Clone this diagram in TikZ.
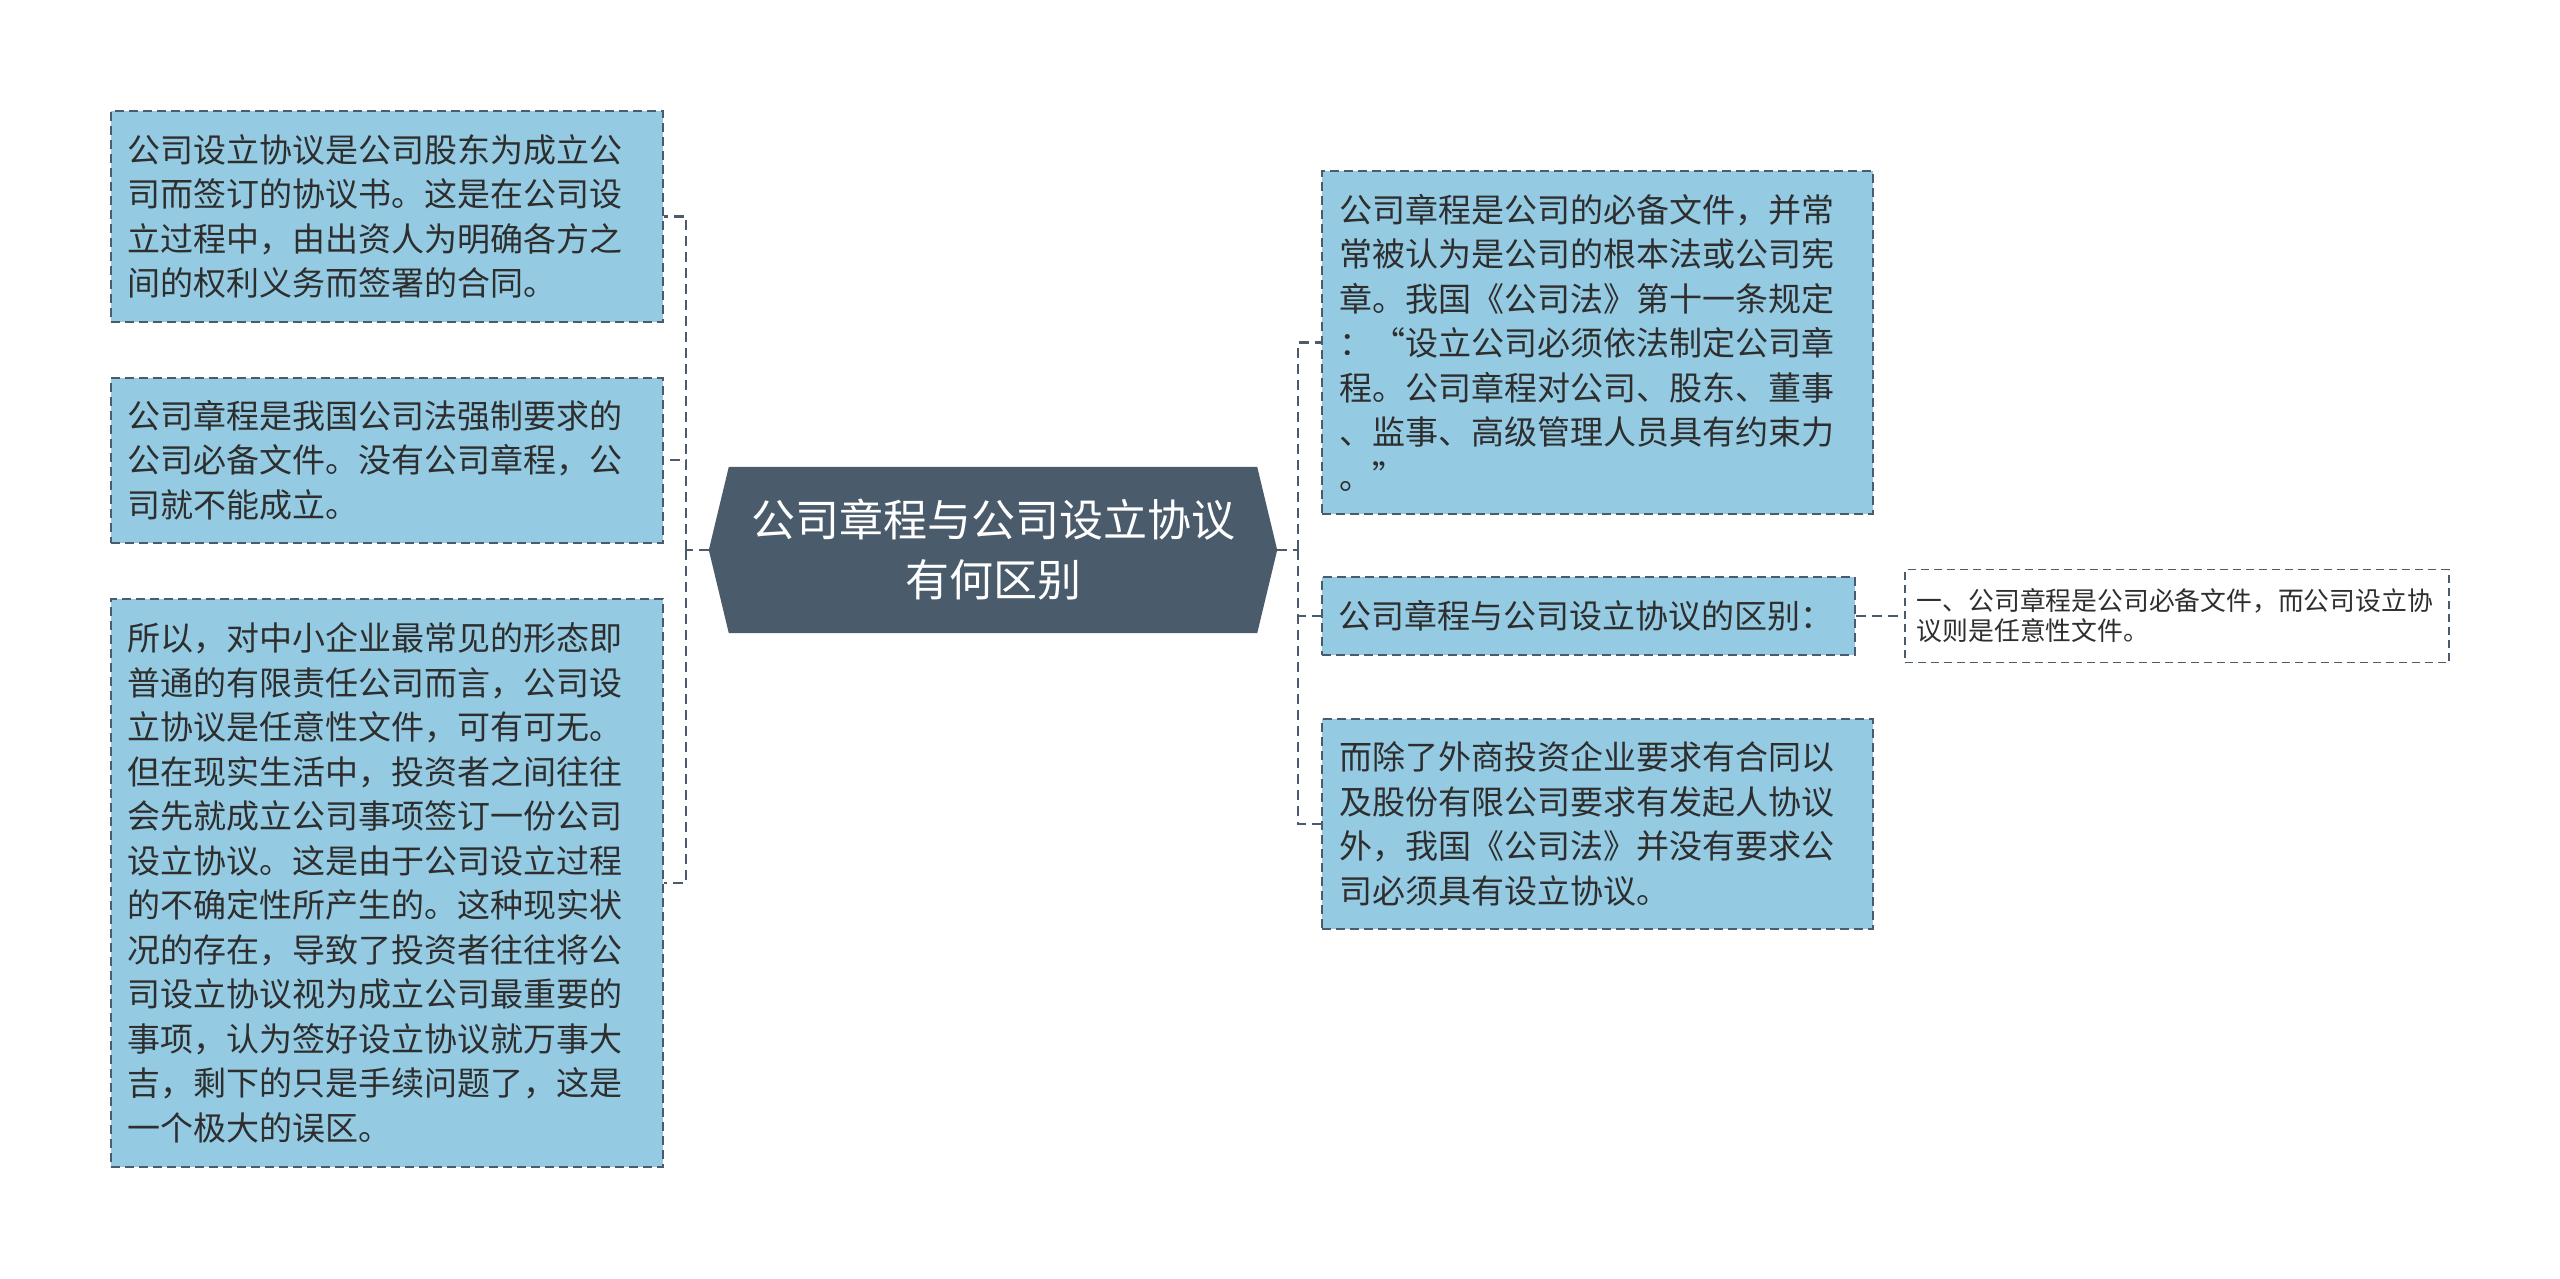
\documentclass[tikz,border=0pt]{standalone}
\usepackage{fontspec}
\setmainfont{Noto Sans CJK SC}
\usetikzlibrary{positioning, calc, backgrounds}
\definecolor{leafblue}{HTML}{94CBE3}
\definecolor{slate}{HTML}{4A5B6B}
\definecolor{ink}{HTML}{2E2E2E}

\begin{document}
\begin{tikzpicture}[x=1pt, y=-1pt,
    % Node styles
    topic/.style={rectangle, draw=none, text=white, minimum width=568pt, minimum height=166pt, align=center, font=\fontsize{44}{60}\selectfont},
    leaf/.style={rectangle, draw=slate, fill=leafblue, line width=2pt, dash pattern=on 9pt off 5pt, text=ink, inner xsep=16pt, inner ysep=0pt, align=left, font=\fontsize{33}{44.5}\selectfont},
    note/.style={rectangle, draw=slate, fill=white, line width=1.8pt, dash pattern=on 8pt off 5pt, text=ink, inner xsep=12pt, inner ysep=0pt, align=left, font=\fontsize{25.8}{30}\selectfont},
    link/.style={draw=slate, line width=2.5pt, dash pattern=on 10pt off 6pt},
]
\useasboundingbox (0,0) rectangle (2560,1278);

% === CENTER: topic ===
\node[topic] (root) at (993,550) {公司章程与公司设立协议\\有何区别};
\begin{scope}[on background layer]
    \fill[slate] (root.west) -- ([xshift=20pt]root.north west) -- ([xshift=-20pt]root.north east) -- (root.east) -- ([xshift=-20pt]root.south east) -- ([xshift=20pt]root.south west) -- cycle;
\end{scope}

% === LEFT: branches ===
\node[leaf, text width=520pt, minimum height=211pt] (agree) at (387,216.5) {公司设立协议是公司股东为成立公\\司而签订的协议书。这是在公司设\\立过程中，由出资人为明确各方之\\间的权利义务而签署的合同。};
\node[leaf, text width=520pt, minimum height=165pt] (charter) at (387,460) {公司章程是我国公司法强制要求的\\公司必备文件。没有公司章程，公\\司就不能成立。};
\node[leaf, text width=520pt, minimum height=568pt] (optional) at (387,883) {所以，对中小企业最常见的形态即\\普通的有限责任公司而言，公司设\\立协议是任意性文件，可有可无。\\但在现实生活中，投资者之间往往\\会先就成立公司事项签订一份公司\\设立协议。这是由于公司设立过程\\的不确定性所产生的。这种现实状\\况的存在，导致了投资者往往将公\\司设立协议视为成立公司最重要的\\事项，认为签好设立协议就万事大\\吉，剩下的只是手续问题了，这是\\一个极大的误区。};

% === RIGHT: branches ===
\node[leaf, text width=517pt, inner xsep=17pt, minimum height=343pt] (lawbase) at (1597.5,342.5) {公司章程是公司的必备文件，并常\\常被认为是公司的根本法或公司宪\\章。我国《公司法》第十一条规定\\：“设立公司必须依法制定公司章\\程。公司章程对公司、股东、董事\\、监事、高级管理人员具有约束力\\。”};
\node[leaf, text width=501pt, minimum height=78pt] (diff) at (1588.5,616) {公司章程与公司设立协议的区别：};
\node[note, text width=520pt, minimum height=93pt, right=48pt of diff] (diffnote) {一、公司章程是公司必备文件，而公司设立协\\议则是任意性文件。};
\node[leaf, text width=517pt, inner xsep=17pt, minimum height=210pt] (foreign) at (1597.5,824) {而除了外商投资企业要求有合同以\\及股份有限公司要求有发起人协议\\外，我国《公司法》并没有要求公\\司必须具有设立协议。};

% === Connectors ===
\coordinate (lbus) at (686,550);
\coordinate (rbus) at (1298,550);
\draw[link] (root.west) -- (lbus);
\draw[link] (lbus) |- (agree.east);
\draw[link] (lbus) |- (charter.east);
\draw[link] (lbus) |- (optional.east);
\draw[link] (root.east) -- (rbus);
\draw[link] (rbus) |- (lawbase.west);
\draw[link] (rbus) |- (diff.west);
\draw[link] (rbus) |- (foreign.west);
\draw[link] (diff) -- (diffnote);

\end{tikzpicture}
\end{document}
